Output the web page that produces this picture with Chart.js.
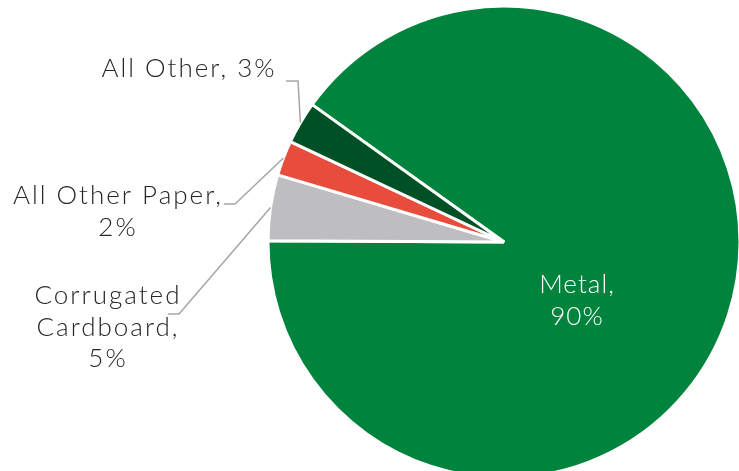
<!DOCTYPE html>
<html>
<head>
<meta charset="utf-8">
<script src="https://cdn.jsdelivr.net/npm/chart.js@4"></script>
<style>
  html, body { margin: 0; padding: 0; background: #fff; overflow: hidden; }
  #wrap { position: relative; width: 739px; height: 490px; }
</style>
</head>
<body>
<div id="wrap"><canvas id="pie"></canvas></div>
<script>
"use strict";

// Data (clockwise, starting from the upper-left edge of the Metal slice)
const categories = ['Metal', 'Corrugated Cardboard', 'All Other Paper', 'All Other'];
const shares = [90.2, 4.5, 2.4, 2.9];
const sliceColors = ['#00843D', '#BEBEC0', '#E84C3D', '#005025'];

// Label layout: text lines, centre x, first baseline, leader stub (start x, elbow x, y)
const labelLayout = {
    'Metal': { lines: ['Metal,', '{p}'], x: 577, y: 293, color: '#ffffff', spacing: 1 },
    'Corrugated Cardboard': { lines: ['Corrugated', 'Cardboard,', '{p}'], x: 108, y: 304, color: '#262626', leader: [168, 179, 314] },
    'All Other Paper': { lines: ['All Other Paper,', '{p}'], x: 118, y: 204, color: '#262626', leader: [224, 235, 204] },
    'All Other': { lines: ['All Other, {p}'], x: 189, y: 77, color: '#262626', leader: [286, 298, 81] }
};

const FONT = "300 26px Lato, 'Open Sans', sans-serif";
const LINE_H = 31.5;

const pieLabels = {
    id: 'pieLabels',
    afterDatasetsDraw(chart) {
        const ctx = chart.ctx;
        const meta = chart.getDatasetMeta(0);
        ctx.save();
        meta.data.forEach((arc, i) => {
            const layout = labelLayout[categories[i]];
            const pct = Math.round(shares[i]) + '%';
            if (layout.leader) {
                const mid = (arc.startAngle + arc.endAngle) / 2;
                const px = arc.x + Math.cos(mid) * arc.outerRadius;
                const py = arc.y + Math.sin(mid) * arc.outerRadius;
                ctx.strokeStyle = '#A6A6A6';
                ctx.lineWidth = 1.5;
                ctx.beginPath();
                ctx.moveTo(layout.leader[0], layout.leader[2]);
                ctx.lineTo(layout.leader[1], layout.leader[2]);
                ctx.lineTo(px, py);
                ctx.stroke();
            }
            ctx.font = FONT;
            ctx.letterSpacing = (layout.spacing !== undefined ? layout.spacing : 2) + 'px';
            ctx.fillStyle = layout.color;
            ctx.textAlign = 'center';
            ctx.textBaseline = 'alphabetic';
            layout.lines.forEach((line, k) => {
                ctx.fillText(line.replace('{p}', pct), layout.x, layout.y + k * LINE_H);
            });
        });
        ctx.restore();
    }
};

new Chart(document.getElementById('pie'), {
    type: 'pie',
    data: {
        labels: categories,
        datasets: [{
            data: shares,
            backgroundColor: sliceColors,
            borderColor: '#ffffff',
            borderWidth: 3,
            hoverOffset: 0
        }]
    },
    options: {
        responsive: true,
        maintainAspectRatio: false,
        animation: false,
        rotation: 305.6,
        radius: 236,
        layout: { padding: { left: 269, right: 0, top: 7, bottom: 13 } },
        plugins: {
            legend: { display: false },
            tooltip: { enabled: false }
        }
    },
    plugins: [pieLabels]
});
</script>
</body>
</html>
